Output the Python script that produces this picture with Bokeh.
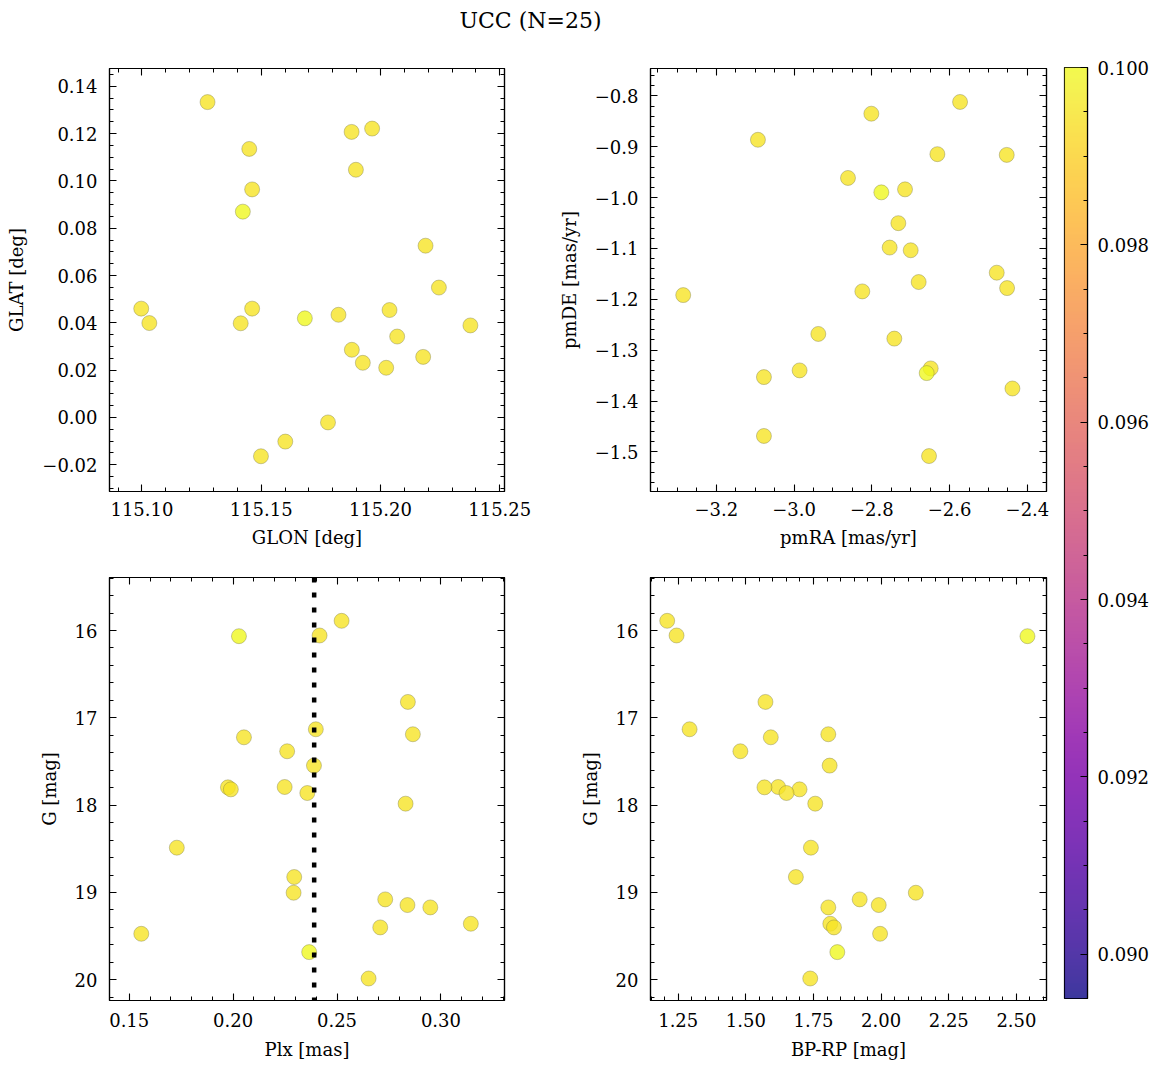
import numpy as np
from bokeh.plotting import figure
from bokeh.models import (Range1d, LinearAxis, SingleIntervalTicker, CustomJSTickFormatter,
                          Span, Label, LinearColorMapper, ColumnDataSource)
from bokeh.layouts import column, row
from bokeh.palettes import Plasma256
from bokeh.transform import linear_cmap
from bokeh.embed import file_html
from bokeh.resources import INLINE

# ---------------- data ----------------
title_text = "UCC (N=25)"

glon = [115.1275, 115.1879, 115.1965, 115.1450, 115.1897, 115.1462, 115.1423, 115.2189,
        115.2245, 115.0997, 115.1031, 115.1462, 115.1414, 115.1683, 115.1824, 115.2038,
        115.2377, 115.2070, 115.1880, 115.1926, 115.2024, 115.2179, 115.1780, 115.1601, 115.1499]
glat = [0.1333, 0.1207, 0.1221, 0.1135, 0.1047, 0.0964, 0.0870, 0.0726, 0.0549, 0.0460,
        0.0399, 0.0460, 0.0398, 0.0419, 0.0434, 0.0454, 0.0389, 0.0342, 0.0286, 0.0231,
        0.0210, 0.0256, -0.0021, -0.0102, -0.0164]
cval_pos = [0.0995, 0.0995, 0.0995, 0.0995, 0.0995, 0.0995, 0.1000, 0.0995, 0.0995, 0.0995,
            0.0995, 0.0995, 0.0995, 0.1000, 0.0995, 0.0995, 0.0995, 0.0995, 0.0995, 0.0995,
            0.0995, 0.0995, 0.0995, 0.0995, 0.0995]

pmra = [-3.2849, -3.0928, -3.0774, -3.0774, -2.9857, -2.9376, -2.8613, -2.8245, -2.8013,
        -2.7756, -2.7542, -2.7422, -2.7319, -2.7147, -2.7001, -2.6796, -2.6487, -2.6590,
        -2.6530, -2.6315, -2.5732, -2.4789, -2.4532, -2.4523, -2.4386]
pmde = [-1.1917, -0.8862, -1.3530, -1.4688, -1.3398, -1.2681, -0.9613, -1.1844, -0.8349,
        -0.9896, -1.0982, -1.2773, -1.0502, -0.9837, -1.1035, -1.1660, -1.3359, -1.3451,
        -1.5083, -0.9145, -0.8118, -1.1476, -0.9159, -1.1779, -1.3754]
cval_pm = [0.0995, 0.0995, 0.0995, 0.0995, 0.0995, 0.0995, 0.0995, 0.0995, 0.0995, 0.1000,
           0.0995, 0.0995, 0.0995, 0.0995, 0.0995, 0.0995, 0.0995, 0.1000, 0.0995, 0.0995,
           0.0995, 0.0995, 0.0995, 0.0995, 0.0995]

gmag = [15.889, 16.057, 16.065, 16.818, 17.131, 17.188, 17.223, 17.383, 17.547, 17.792,
        17.796, 17.819, 17.861, 17.983, 18.487, 18.823, 19.003, 19.079, 19.144, 19.171,
        19.358, 19.400, 19.473, 19.683, 19.985]
plx = [0.2522, 0.2416, 0.2028, 0.2841, 0.2398, 0.2865, 0.2052, 0.2260, 0.2389, 0.2248,
       0.1975, 0.1989, 0.2357, 0.2830, 0.1729, 0.2294, 0.2291, 0.2732, 0.2839, 0.2949,
       0.3144, 0.2708, 0.1558, 0.2366, 0.2652]
bprp = [1.2092, 1.2438, 2.5408, 1.5724, 1.2920, 1.8047, 1.5921, 1.4797, 1.8096, 1.6193,
        1.5687, 1.6984, 1.6502, 1.7564, 1.7404, 1.6848, 2.1282, 1.9207, 1.9911, 1.8047,
        1.8120, 1.8256, 1.9961, 1.8380, 1.7379]
cval_phot = [0.0995, 0.0995, 0.1000, 0.0995, 0.0995, 0.0995, 0.0995, 0.0995, 0.0995, 0.0995,
             0.0995, 0.0995, 0.0995, 0.0995, 0.0995, 0.0995, 0.0995, 0.0995, 0.0995, 0.0995,
             0.0995, 0.0995, 0.0995, 0.1000, 0.0995]

plx_line = 0.239
c_low, c_high = 0.0895, 0.1000

FONT = "DejaVu Serif"
TICK_FS = "18px"
LABEL_FS = "18px"


def fmt(dec):
    return CustomJSTickFormatter(args=dict(d=dec), code="""
        const v = Math.abs(tick) < 1e-9 ? 0 : tick;
        return v.toFixed(d).replace('-', '\u2212');
    """)


def blank_fmt():
    return CustomJSTickFormatter(code="return '';")


def style_axis(ax, ticker, formatter, label=None, show_labels=True, lab_standoff=12,
               axlab_standoff=12):
    ax.ticker = ticker
    ax.formatter = formatter
    ax.major_tick_in = 7
    ax.major_tick_out = 0
    ax.minor_tick_in = 4
    ax.minor_tick_out = 0
    ax.major_tick_line_color = "black"
    ax.minor_tick_line_color = "black"
    ax.major_tick_line_width = 1.1
    ax.minor_tick_line_width = 1
    ax.axis_line_color = "black"
    ax.axis_line_width = 1.2
    ax.major_label_text_font = FONT
    ax.major_label_text_color = "black"
    ax.major_label_text_font_size = TICK_FS
    ax.major_label_standoff = lab_standoff if show_labels else 0
    if label is not None:
        ax.axis_label = label
        ax.axis_label_text_font = FONT
        ax.axis_label_text_font_size = LABEL_FS
        ax.axis_label_text_font_style = "normal"
        ax.axis_label_text_color = "black"
        ax.axis_label_standoff = axlab_standoff


def panel(x, y, c, xr, yr, xint, xminor, xdec, yint, yminor, ydec, xlabel, ylabel,
          left, right, top, bottom, fw, fh, xstand, xlabstand):
    p = figure(frame_width=fw, frame_height=fh, x_range=Range1d(*xr), y_range=Range1d(*yr),
               toolbar_location=None, output_backend="svg",
               min_border_left=left, min_border_right=right,
               min_border_top=top, min_border_bottom=bottom)
    p.grid.visible = False
    p.outline_line_color = "black"
    p.outline_line_width = 1.2
    p.outline_line_alpha = 1.0
    p.background_fill_color = "white"
    p.border_fill_color = "white"
    style_axis(p.xaxis[0], SingleIntervalTicker(interval=xint, num_minor_ticks=xminor),
               fmt(xdec), xlabel, lab_standoff=xstand, axlab_standoff=xlabstand)
    style_axis(p.yaxis[0], SingleIntervalTicker(interval=yint, num_minor_ticks=yminor),
               fmt(ydec), ylabel, lab_standoff=12, axlab_standoff=12)
    top_ax = LinearAxis()
    style_axis(top_ax, SingleIntervalTicker(interval=xint, num_minor_ticks=xminor), blank_fmt(),
               show_labels=False)
    p.add_layout(top_ax, "above")
    right_ax = LinearAxis()
    style_axis(right_ax, SingleIntervalTicker(interval=yint, num_minor_ticks=yminor), blank_fmt(),
               show_labels=False)
    p.add_layout(right_ax, "right")
    src = ColumnDataSource(dict(x=x, y=y, c=c))
    p.scatter("x", "y", source=src, size=15,
              fill_color=linear_cmap("c", Plasma256, c_low, c_high), fill_alpha=0.8,
              line_color="#6e6e40", line_alpha=0.45, line_width=0.8)
    return p


FH = 423

p1 = panel(glon, glat, cval_pos, (115.0864, 115.252), (-0.0313, 0.1475),
           0.05, 5, 2, 0.02, 4, 2, "GLON [deg]", "GLAT [deg]",
           109, 46, 28, 69, 395, FH, 10, 8)
p2 = panel(pmra, pmde, cval_pm, (-3.369, -2.351), (-1.578, -0.746),
           0.2, 4, 1, 0.1, 5, 1, "pmRA [mas/yr]", "pmDE [mas/yr]",
           100, 9, 28, 69, 396, FH, 10, 8)
p3 = panel(plx, gmag, cval_phot, (0.1405, 0.3306), (20.237, 15.393),
           0.05, 5, 2, 1, 5, 0, "Plx [mas]", "G [mag]",
           109, 46, 17, 60, 395, FH, 12, 9)
p4 = panel(bprp, gmag, cval_phot, (1.1475, 2.6112), (20.237, 15.393),
           0.25, 5, 2, 1, 5, 0, "BP-RP [mag]", "G [mag]",
           100, 9, 17, 60, 396, FH, 12, 9)

p3.add_layout(Span(location=plx_line, dimension="height", line_color="black",
                   line_width=4.5, line_dash="5 10"))

# colorbar
cb = figure(frame_width=23, frame_height=931, x_range=Range1d(0, 1),
            y_range=Range1d(c_low, c_high), toolbar_location=None, output_backend="svg",
            x_axis_type=None, y_axis_location="right",
            min_border_left=9, min_border_right=68, min_border_top=27, min_border_bottom=62)
cb.grid.visible = False
cb.outline_line_color = "black"
cb.outline_line_width = 1.2
cb.border_fill_color = "white"
grad = np.linspace(c_low, c_high, 256).reshape(256, 1)
cb.image(image=[grad], x=0, y=c_low, dw=1, dh=c_high - c_low,
         color_mapper=LinearColorMapper(palette=Plasma256, low=c_low, high=c_high),
         global_alpha=0.8)
style_axis(cb.yaxis[0], SingleIntervalTicker(interval=0.002, num_minor_ticks=4), fmt(3),
           lab_standoff=10)

# title
tf = figure(width=1155, height=40, x_range=Range1d(0, 1), y_range=Range1d(0, 1),
            toolbar_location=None, output_backend="svg", x_axis_type=None, y_axis_type=None,
            min_border=0, outline_line_color=None)
tf.grid.visible = False
tf.add_layout(Label(x=530, y=20, x_units="screen", y_units="screen", text=title_text,
                    text_align="center", text_baseline="middle", text_font=FONT,
                    text_font_size="22px", text_color="black"))

layout = column(tf, row(column(row(p1, p2), row(p3, p4)), cb))

open("out.html", "w").write(file_html(layout, INLINE))
